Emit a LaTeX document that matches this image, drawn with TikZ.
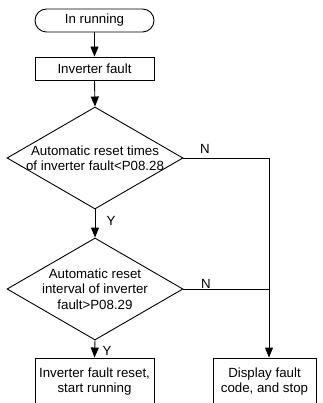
\documentclass[tikz,border=0pt]{standalone}
\usepackage{fontspec}
\setmainfont{Liberation Sans}
\usetikzlibrary{shapes.geometric,arrows.meta}
\begin{document}
\begin{tikzpicture}[x=1pt,y=-1pt,
  txt/.style={font=\fontsize{13.3}{15.5}\selectfont, text=black},
  term/.style={txt, draw=black, line width=0.9pt, rounded corners=11.5pt, minimum width=119pt, minimum height=23pt, inner sep=0pt},
  procbox/.style={txt, draw=black, line width=0.9pt, minimum width=119pt, minimum height=23pt, inner sep=0pt, align=center},
  decide/.style={draw=black, line width=0.9pt, diamond, minimum width=176pt, minimum height=102pt, inner sep=0pt},
  conn/.style={draw=black, line width=0.9pt, -{Triangle[length=10pt,width=8pt]}},
  plainline/.style={draw=black, line width=0.9pt},
  lbl/.style={txt, inner sep=0pt}
]
\useasboundingbox (0,0) rectangle (322,403);
\node[term] (start) at (94.5,20.5) {In running};
\node[procbox] (fault) at (94.5,68.5) {Inverter fault};
\node[decide] (d1) at (95,158) {};
\node[txt, align=center, inner sep=0pt] (d1t) at (95,158) {Automatic reset times\\of inverter fault<P08.28};
\node[decide] (d2) at (95,289) {};
\node[txt, align=center, inner sep=0pt] (d2t) at (95,289) {Automatic reset\\interval of inverter\\fault>P08.29};
\node[procbox, minimum height=47pt] (reset) at (94.5,381.5) {Inverter fault reset,\\start running};
\node[procbox, minimum width=103pt, minimum height=47pt] (stop) at (264.5,381.5) {Display fault\\code, and stop};
\coordinate (corner) at (269,158);
\coordinate (join) at (269,289);

\draw[conn] (start.south) -- (fault.north);
\draw[conn] (fault.south) -- (d1.north);
\draw[conn] (d1.south) -- (d2.north);
\draw[conn] (d2.south) -- (reset.north);
\draw[conn] (d1.east) -- (corner) -- (corner |- stop.north);
\draw[plainline] (d2.east) -- (join);

\node[lbl] (n1) at (205,149) {N};
\node[lbl] (n2) at (206,284) {N};
\node[lbl] (y1) at (111,221) {Y};
\node[lbl] (y2) at (107,351) {Y};
\end{tikzpicture}
\end{document}
